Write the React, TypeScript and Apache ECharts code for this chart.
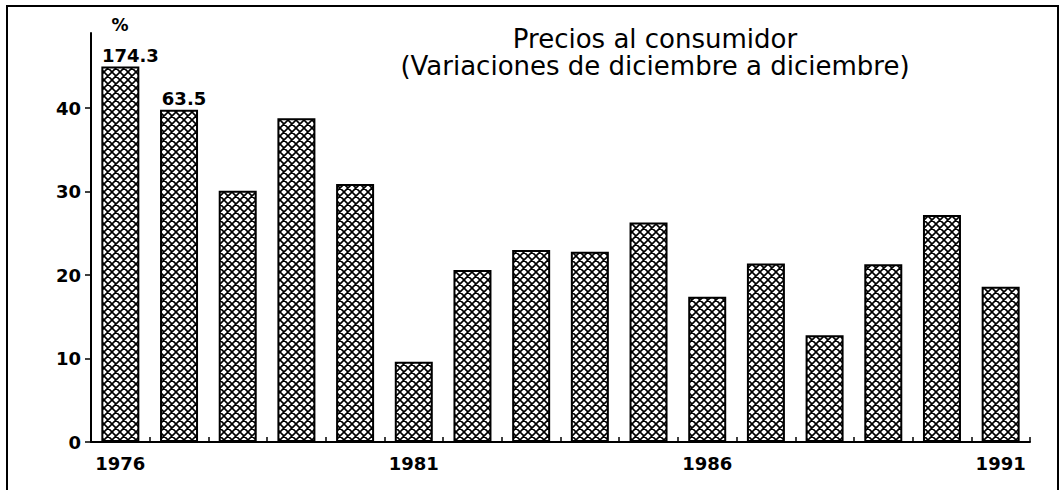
import React, { useEffect, useRef } from "react";
import * as echarts from "echarts";

// ---- data ----
const years = [
  "1976", "1977", "1978", "1979", "1980", "1981", "1982", "1983",
  "1984", "1985", "1986", "1987", "1988", "1989", "1990", "1991",
];
// December-to-December consumer price variation (%)
const inflation = [
  174.3, 63.5, 30.1, 38.8, 30.9, 9.6, 20.6, 23.0,
  22.8, 26.3, 17.4, 21.4, 12.8, 21.3, 27.2, 18.6,
];
// heights at which the off-scale bars (first years) are drawn, cut by the frame
const offScaleHeights = [45, 39.8];
const yTickValues = [0, 10, 20, 30, 40];
const labelledYears = ["1976", "1981", "1986", "1991"];
const titleLines = ["Precios al consumidor", "(Variaciones de diciembre a diciembre)"];
const unitLabel = "%";

const FONT = "'DejaVu Sans', sans-serif";

function makeHatch(): HTMLCanvasElement {
  const s = 8;
  const c = document.createElement("canvas");
  c.width = s;
  c.height = s;
  const ctx = c.getContext("2d")!;
  ctx.fillStyle = "#ffffff";
  ctx.fillRect(0, 0, s, s);
  ctx.strokeStyle = "#000000";
  ctx.lineWidth = 1.6;
  ctx.beginPath();
  for (const k of [-s, 0, s]) {
    ctx.moveTo(k - 1, -1);
    ctx.lineTo(k + s + 1, s + 1);
    ctx.moveTo(k + s + 1, -1);
    ctx.lineTo(k - 1, s + 1);
  }
  ctx.stroke();
  return c;
}

export default function App() {
  const ref = useRef<HTMLDivElement>(null);

  useEffect(() => {
    if (!ref.current) return;
    const chart = echarts.init(ref.current, undefined, { renderer: "svg" });
    const hatch = makeHatch();

    const barData = years.map((_, i) => {
      const off = i < offScaleHeights.length;
      return {
        value: off ? offScaleHeights[i] : inflation[i],
        label: off
          ? {
              show: true,
              formatter: String(inflation[i]),
              offset: [i === 0 ? 10 : 5, 0],
            }
          : { show: false },
      };
    });

    chart.setOption({
      animation: false,
      backgroundColor: "#ffffff",
      textStyle: { fontFamily: FONT },
      grid: { left: 91, right: 32, top: 33, bottom: 48, containLabel: false },
      xAxis: {
        type: "category",
        data: years,
        boundaryGap: true,
        axisLine: { show: true, lineStyle: { color: "#000", width: 2 } },
        axisTick: {
          show: true,
          inside: true,
          length: 5,
          interval: 0,
          alignWithLabel: false,
          lineStyle: { color: "#000", width: 1.5 },
        },
        axisLabel: {
          interval: (_i: number, v: string) => labelledYears.includes(v),
          margin: 12,
          color: "#000",
          fontSize: 18,
          fontWeight: "bold",
          fontFamily: FONT,
        },
        splitLine: { show: false },
      },
      yAxis: {
        type: "value",
        min: 0,
        max: 49,
        interval: 10,
        axisLine: { show: true, lineStyle: { color: "#000", width: 2 } },
        axisTick: {
          show: true,
          length: 6,
          customValues: yTickValues,
          lineStyle: { color: "#000", width: 1.5 },
        },
        axisLabel: {
          customValues: yTickValues,
          margin: 10,
          color: "#000",
          fontSize: 18,
          fontWeight: "bold",
          fontFamily: FONT,
        },
        splitLine: { show: false },
      },
      series: [
        {
          type: "bar",
          data: barData,
          barWidth: 38,
          itemStyle: {
            color: { image: hatch, repeat: "repeat" },
            borderColor: "#000",
            borderWidth: 2,
          },
          label: {
            show: false,
            position: "top",
            distance: 2,
            color: "#000",
            fontSize: 18,
            fontWeight: "bold",
            fontFamily: FONT,
          },
        },
      ],
      graphic: [
        {
          type: "rect",
          shape: { x: 7, y: 6, width: 1051, height: 520 },
          style: { fill: "none", stroke: "#000", lineWidth: 2 },
          silent: true,
        },
        {
          type: "text",
          x: 120,
          y: 25,
          style: {
            text: unitLabel,
            fill: "#000",
            font: `bold 17px ${FONT}`,
            textAlign: "center",
            textVerticalAlign: "middle",
          },
        },
        {
          type: "text",
          x: 655,
          y: 52,
          style: {
            text: titleLines.join("\n"),
            fill: "#000",
            font: `26px ${FONT}`,
            lineHeight: 27,
            textAlign: "center",
            textVerticalAlign: "middle",
          },
        },
      ],
    });

    return () => chart.dispose();
  }, []);

  return (
    <div
      ref={ref}
      style={{ position: "absolute", left: 0, top: 0, width: 1062, height: 490 }}
    />
  );
}
